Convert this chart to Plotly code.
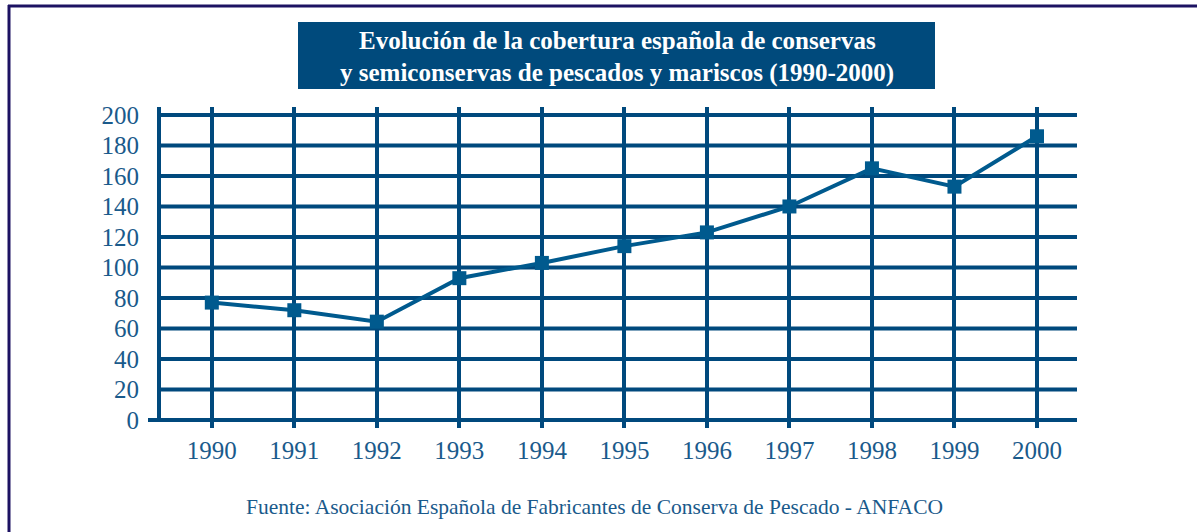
import plotly.graph_objects as go

years = [1990, 1991, 1992, 1993, 1994, 1995, 1996, 1997, 1998, 1999, 2000]
values = [77, 72, 64.5, 93, 103, 114, 123, 140, 165, 153, 186]
y_ticks = [0, 20, 40, 60, 80, 100, 120, 140, 160, 180, 200]

title_line1 = "Evolución de la cobertura española de conservas"
title_line2 = "y semiconservas de pescados y mariscos (1990-2000)"
source_text = "Fuente: Asociación Española de Fabricantes de Conserva de Pescado - ANFACO"

W, H = 1197, 532
L, R, T, B = 159, 1077, 107, 428
pw, ph = R - L, B - T


def px(x):
    return (x - L) / pw


def py(y):
    return (B - y) / ph


grid_col = "#00497d"
line_col = "#005a8e"
text_col = "#1a5a8b"
frame_col = "#1c1262"
font_serif = "Liberation Serif, Times New Roman, serif"

fig = go.Figure()
fig.add_trace(go.Scatter(
    x=years, y=values, mode="lines+markers",
    line=dict(color=line_col, width=4),
    marker=dict(symbol="square", size=14, color=line_col),
    showlegend=False, hoverinfo="x+y",
))

shapes = []
for v in y_ticks:
    x0 = px(148) if v == 0 else 0
    shapes.append(dict(type="line", xref="paper", yref="y", x0=x0, x1=1,
                       y0=v, y1=v, line=dict(color=grid_col, width=4), layer="below"))
shapes.append(dict(type="line", xref="paper", yref="y", x0=0, x1=0,
                   y0=0, y1=210, line=dict(color=grid_col, width=4), layer="below"))
shapes.append(dict(type="line", xref="paper", yref="paper", x0=px(8), x1=px(1210),
                   y0=py(6), y1=py(6), line=dict(color=frame_col, width=3)))
shapes.append(dict(type="line", xref="paper", yref="paper", x0=px(9), x1=px(9),
                   y0=py(5), y1=py(545), line=dict(color=frame_col, width=3)))
shapes.append(dict(type="rect", xref="paper", yref="paper", x0=px(298), x1=px(935),
                   y0=py(89), y1=py(22), fillcolor="#004a7c", line=dict(width=0)))

fig.update_layout(
    width=W, height=H,
    margin=dict(l=L, r=W - R, t=T, b=H - B, pad=0),
    paper_bgcolor="white", plot_bgcolor="white",
    shapes=shapes,
    xaxis=dict(
        range=[1989.36, 2000.485], tickvals=years, ticktext=[str(y) for y in years],
        showgrid=True, gridcolor=grid_col, gridwidth=4, zeroline=False, showline=False,
        ticks="", tickfont=dict(family=font_serif, size=25, color=text_col),
        ticklabelstandoff=5, fixedrange=True,
    ),
    yaxis=dict(
        range=[-5.2, 205.2], tickvals=y_ticks, showgrid=False, zeroline=False,
        showline=False, ticks="", tickfont=dict(family=font_serif, size=25, color=text_col),
        ticklabelstandoff=19, fixedrange=True,
    ),
    annotations=[
        dict(text="<b>" + title_line1 + "</b>", xref="paper", yref="paper",
             x=px(617), y=py(40), xanchor="center", yanchor="middle", showarrow=False,
             font=dict(family=font_serif, size=25, color="white")),
        dict(text="<b>" + title_line2 + "</b>", xref="paper", yref="paper",
             x=px(617), y=py(72.5), xanchor="center", yanchor="middle", showarrow=False,
             font=dict(family=font_serif, size=25, color="white")),
        dict(text=source_text, xref="paper", yref="paper", x=px(594), y=py(507),
             xanchor="center", yanchor="middle", showarrow=False,
             font=dict(family=font_serif, size=21.5, color=text_col)),
    ],
)

fig.write_html("out.html", config={"displayModeBar": False},
               post_script="document.body.style.margin='0';")
